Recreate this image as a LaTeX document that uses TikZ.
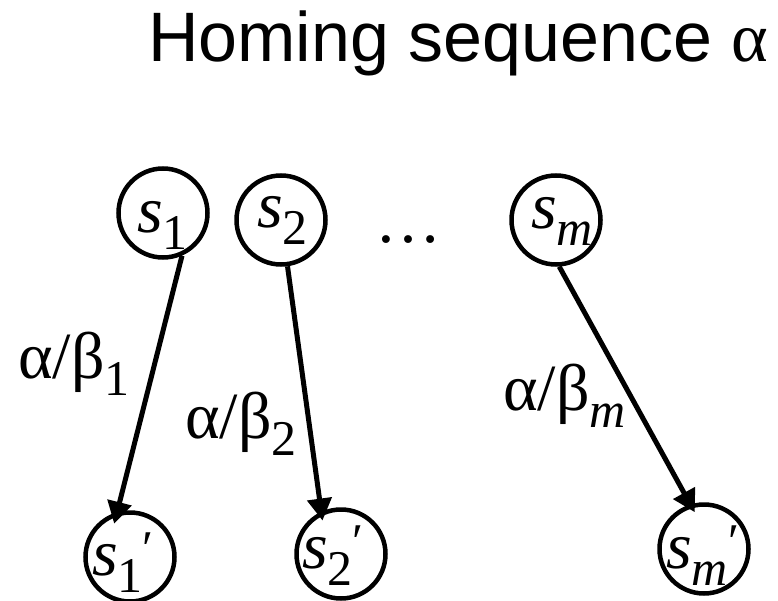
\documentclass[tikz,border=0pt]{standalone}
\usepackage{fontspec}
\newfontfamily\fa{Liberation Serif}
\newfontfamily\fc{Liberation Sans}
\usetikzlibrary{arrows.meta}
\newcommand\bt[1]{{\fa\fontsize{66pt}{66pt}\selectfont #1}}
\newcommand\lo[1]{\raisebox{-17pt}{\fa\fontsize{50pt}{50pt}\selectfont #1}}
\newcommand\prm{\raisebox{10pt}{\fa\fontsize{50pt}{50pt}\selectfont ′}}
\tikzset{
  circ/.style={circle, draw, line width=4.5pt, minimum size=89pt, inner sep=0pt},
  txt/.style={anchor=base west, inner sep=0pt},
  arr/.style={line width=5pt, -{Triangle[length=22pt,width=24pt]}}
}
\begin{document}
\begin{tikzpicture}[x=1pt,y=1pt]
\useasboundingbox (0,0) rectangle (778,-601);
\node[anchor=base west, inner sep=0pt] (title) at (148,-62)
  {\fc\fontsize{70pt}{70pt}\selectfont Homing sequence {\fa α}};
% top states
\node[circ] (s1) at (163,-213) {};
\node[circ] (s2) at (281,-220) {};
\node[circ] (sm) at (556,-220) {};
\node[txt] (t1) at (137,-233) {\bt{\textit{s}\lo{1}}};
\node[txt] (t2) at (257,-228) {\bt{\textit{s}\lo{2}}};
\node[txt] (tm) at (531,-229) {\bt{\textit{s}\lo{\textit{m}}}};
\node[txt] (dots) at (375,-243) {\bt{…}};
% bottom states
\node[circ] (s1p) at (130,-557) {};
\node[circ] (s2p) at (341,-554) {};
\node[circ] (smp) at (704,-549) {};
\node[txt] (t1p) at (92,-575) {\bt{\textit{s}\lo{1}\prm}};
\node[txt] (t2p) at (302,-568) {\bt{\textit{s}\lo{2}\prm}};
\node[txt] (tmp) at (666,-568) {\bt{\textit{s}\lo{\textit{m}}\prm}};
% transitions
\draw[arr, shorten >=-12pt] (s1.-66) -- (s1p.106);
\draw[arr, shorten >=-9pt] (s2.-82) -- (s2p.115);
\draw[arr, shorten >=-9pt] (sm.-86) -- (smp.107);
% labels
\node[txt] (l1) at (18,-378) {\bt{α/β\lo{1}}};
\node[txt] (l2) at (185,-438) {\bt{α/β\lo{2}}};
\node[txt] (lm) at (503,-410) {\bt{α/β\lo{\textit{m}}}};
\end{tikzpicture}
\end{document}
